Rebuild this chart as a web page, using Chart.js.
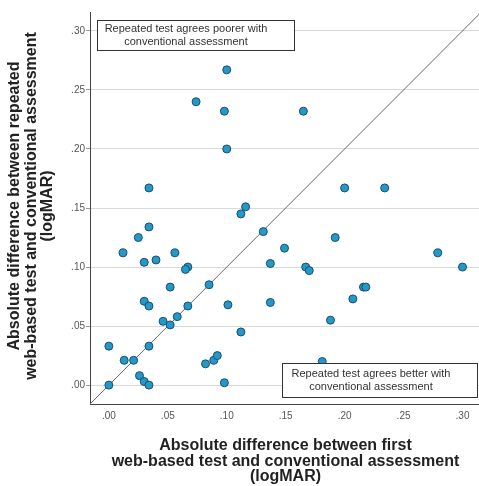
<!DOCTYPE html>
<html>
<head>
<meta charset="utf-8">
<script src="https://cdn.jsdelivr.net/npm/chart.js@4.4.0/dist/chart.umd.min.js"></script>
<style>
  html, body { margin: 0; padding: 0; background: #fff; }
  canvas { display: block; }
</style>
</head>
<body>
<canvas id="scatterChart" width="479" height="486"></canvas>
<script>
// absolute difference: first web test vs conventional (x), repeated web test vs conventional (y)
var firstDiff = [
    0.100, 0.074, 0.098, 0.165, 0.100, 0.034, 0.200, 0.234, 0.116, 0.112,
    0.034, 0.131, 0.025, 0.192, 0.149, 0.012, 0.056, 0.279, 0.040, 0.030,
    0.137, 0.067, 0.065, 0.167, 0.170, 0.300, 0.052, 0.085, 0.216, 0.218,
    0.207, 0.030, 0.034, 0.067, 0.101, 0.137, 0.058, 0.046, 0.052, 0.188,
    0.112, 0.000, 0.034, 0.013, 0.021, 0.082, 0.089, 0.092, 0.181, 0.026,
    0.030, 0.034, 0.000, 0.098
];
var repeatDiff = [
    0.267, 0.240, 0.232, 0.232, 0.200, 0.167, 0.167, 0.167, 0.151, 0.145,
    0.134, 0.130, 0.125, 0.125, 0.116, 0.112, 0.112, 0.112, 0.106, 0.104,
    0.103, 0.100, 0.098, 0.100, 0.097, 0.100, 0.083, 0.085, 0.083, 0.083,
    0.073, 0.071, 0.067, 0.067, 0.068, 0.070, 0.058, 0.054, 0.051, 0.055,
    0.045, 0.033, 0.033, 0.021, 0.021, 0.018, 0.021, 0.025, 0.020, 0.008,
    0.003, 0.000, 0.000, 0.002
];
var tickValues = [0, 0.05, 0.10, 0.15, 0.20, 0.25, 0.30];
var axisMin = -0.016;
var xMax = 0.314;
var yMax = 0.316;

var xTitle = ["Absolute difference between first", "web-based test and conventional assessment", "(logMAR)"];
var yTitle = ["Absolute difference between repeated", "web-based test and conventional assessment", "(logMAR)"];
var noteTop = ["Repeated test agrees poorer with", "conventional assessment"];
var noteBottom = ["Repeated test agrees better with", "conventional assessment"];

var points = firstDiff.map(function (v, i) { return { x: v, y: repeatDiff[i] }; });

function fmtTick(v) {
    return Number(v).toFixed(2).replace(/^0/, "");
}
function setTicks(scale) {
    scale.ticks = tickValues.map(function (v) { return { value: v }; });
}

var labelsPlugin = {
    id: "labelsPlugin",
    afterDatasetsDraw: function (chart) {
        var ctx = chart.ctx;
        var ca = chart.chartArea;

        function note(lines, left, top, w, h) {
            ctx.save();
            ctx.fillStyle = "#fff";
            ctx.fillRect(left, top, w, h);
            ctx.strokeStyle = "#333";
            ctx.lineWidth = 1;
            ctx.strokeRect(left + 0.5, top + 0.5, w, h);
            ctx.fillStyle = "#333";
            ctx.font = "11px 'Liberation Sans', Arial, sans-serif";
            ctx.textAlign = "center";
            ctx.textBaseline = "middle";
            var cy = top + h / 2 - 6.5;
            lines.forEach(function (t, i) {
                ctx.fillText(t, left + 89, cy + i * 13.5);
            });
            ctx.restore();
        }
        note(noteTop, ca.left + 7, ca.top + 8, 197, 30);
        note(noteBottom, ca.right - 197, ca.bottom - 41, 195, 34);
    },
    afterDraw: function (chart) {
        var ctx = chart.ctx;
        var ca = chart.chartArea;
        ctx.save();
        ctx.fillStyle = "#222";
        ctx.font = "bold 16px 'Liberation Sans', Arial, sans-serif";
        ctx.textAlign = "center";
        ctx.textBaseline = "middle";
        var cx = (ca.left + ca.right) / 2 + 1;
        xTitle.forEach(function (t, i) {
            ctx.fillText(t, cx, 446 + i * 15.5);
        });
        ctx.translate(15, (ca.top + ca.bottom) / 2 - 2);
        ctx.rotate(-Math.PI / 2);
        yTitle.forEach(function (t, i) {
            ctx.fillText(t, 0, i * 16.5);
        });
        ctx.restore();
    }
};

var ctx = document.getElementById("scatterChart");
var myChart = new Chart(ctx, {
    type: "scatter",
    data: {
        datasets: [
            {
                label: "Patients",
                data: points,
                backgroundColor: "#2399c9",
                borderColor: "#1b4d6b",
                borderWidth: 1,
                pointRadius: 4,
                order: 1
            },
            {
                type: "line",
                label: "Equal agreement",
                data: [{ x: axisMin, y: axisMin }, { x: yMax, y: yMax }],
                borderColor: "#666",
                borderWidth: 1,
                pointRadius: 0,
                fill: false,
                order: 2
            }
        ]
    },
    options: {
        responsive: false,
        animation: false,
        layout: { autoPadding: false, padding: { top: 12, right: 0, left: 0, bottom: 0 } },
        plugins: {
            legend: { display: false },
            tooltip: { enabled: false }
        },
        scales: {
            x: {
                type: "linear",
                min: axisMin,
                max: xMax,
                afterBuildTicks: setTicks,
                afterFit: function (scale) {
                    scale.height = 82;
                    scale.paddingLeft = 0;
                    scale.paddingRight = 0;
                },
                grid: { display: false, drawTicks: false },
                border: { display: true, color: "#444", width: 1 },
                ticks: {
                    padding: 6,
                    color: "#555",
                    font: { family: "'Liberation Sans', Arial, sans-serif", size: 10 },
                    callback: fmtTick
                }
            },
            y: {
                type: "linear",
                min: axisMin,
                max: yMax,
                afterBuildTicks: setTicks,
                afterFit: function (scale) { scale.width = 90; },
                grid: { color: "#dadada", tickColor: "#999", tickLength: 4 },
                border: { display: true, color: "#444", width: 1 },
                ticks: {
                    padding: 1,
                    color: "#555",
                    font: { family: "'Liberation Sans', Arial, sans-serif", size: 10 },
                    callback: fmtTick
                }
            }
        }
    },
    plugins: [labelsPlugin]
});
</script>
</body>
</html>
